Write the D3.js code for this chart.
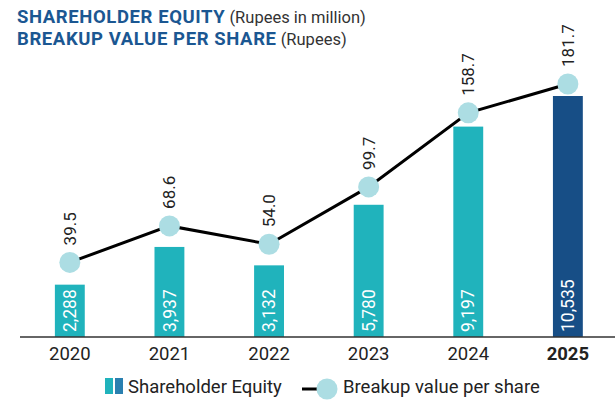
<!DOCTYPE html>
<html>
<head>
<meta charset="utf-8">
<script src="https://cdn.jsdelivr.net/npm/d3@7"></script>
<style>
  body { margin: 0; background: #fff; }
  text { font-family: Roboto, "Noto Sans", sans-serif; }
</style>
</head>
<body>
<div id="chart"></div>
<script>
// chart data
var years = ["2020", "2021", "2022", "2023", "2024", "2025"];
var equity = [2288, 3937, 3132, 5780, 9197, 10535];
var breakup = [39.5, 68.6, 54.0, 99.7, 158.7, 181.7];
var equityLabels = ["2,288", "3,937", "3,132", "5,780", "9,197", "10,535"];
var breakupLabels = ["39.5", "68.6", "54.0", "99.7", "158.7", "181.7"];

var svgWidth = 615;
var svgHeight = 402;
var baseY = 337;

var svg = d3.select("#chart")
  .append("svg")
  .attr("width", svgWidth)
  .attr("height", svgHeight);

var teal = "#20b3bc";
var navy = "#174e86";
var titleBlue = "#1b5792";

// titles
var t1 = svg.append("text").attr("x", 17).attr("y", 22.5);
t1.append("tspan").attr("font-weight", "bold").attr("font-size", "18.5px").attr("letter-spacing", "0.6px").attr("fill", titleBlue).text("SHAREHOLDER EQUITY");
t1.append("tspan").attr("font-size", "16.5px").attr("fill", "#333").text(" (Rupees in million)");
var t2 = svg.append("text").attr("x", 17).attr("y", 44.5);
t2.append("tspan").attr("font-weight", "bold").attr("font-size", "18.5px").attr("letter-spacing", "0.6px").attr("fill", titleBlue).text("BREAKUP VALUE PER SHARE");
t2.append("tspan").attr("font-size", "16.5px").attr("fill", "#333").text(" (Rupees)");

// scales
var xScale = d3.scaleBand()
  .domain(years)
  .range([25, 612.7])
  .paddingInner(0.7)
  .paddingOuter(0.3);

var yBar = d3.scaleLinear()
  .domain([0, 10535])
  .range([baseY, 96]);

var yLine = d3.scaleLinear()
  .domain([0, 200])
  .range([312, 61]);

var cx = function(i) { return xScale(years[i]) + xScale.bandwidth() / 2; };

// bars
svg.selectAll("rect.bar")
  .data(equity)
  .enter()
  .append("rect")
  .attr("class", "bar")
  .attr("x", (d, i) => xScale(years[i]))
  .attr("y", d => yBar(d))
  .attr("width", xScale.bandwidth())
  .attr("height", d => baseY - yBar(d))
  .attr("fill", (d, i) => i == 5 ? navy : teal);

// bar value labels
svg.selectAll("text.barLabel")
  .data(equityLabels)
  .enter()
  .append("text")
  .attr("class", "barLabel")
  .attr("transform", (d, i) => `translate(${cx(i)}, ${baseY - 5}) rotate(-90)`)
  .attr("dy", "0.35em")
  .attr("font-size", "17.5px")
  .attr("fill", "#fff")
  .text(d => d);

// axis line
svg.append("line")
  .attr("x1", 20).attr("x2", 615)
  .attr("y1", baseY).attr("y2", baseY)
  .attr("stroke", "#333")
  .attr("stroke-width", 1.5);

// year labels
svg.selectAll("text.year")
  .data(years)
  .enter()
  .append("text")
  .attr("class", "year")
  .attr("x", (d, i) => cx(i))
  .attr("y", 360)
  .attr("text-anchor", "middle")
  .attr("font-size", "18.5px")
  .attr("font-weight", (d, i) => i == 5 ? "bold" : "normal")
  .attr("fill", "#222")
  .text(d => d);

// breakup line
var line = d3.line()
  .x((d, i) => cx(i))
  .y(d => yLine(d));

svg.append("path")
  .datum(breakup)
  .attr("d", line)
  .attr("fill", "none")
  .attr("stroke", "#000")
  .attr("stroke-width", 3);

svg.selectAll("circle.pt")
  .data(breakup)
  .enter()
  .append("circle")
  .attr("class", "pt")
  .attr("cx", (d, i) => cx(i))
  .attr("cy", d => yLine(d))
  .attr("r", 10.5)
  .attr("fill", "#acdde3");

svg.selectAll("text.ptLabel")
  .data(breakup)
  .enter()
  .append("text")
  .attr("class", "ptLabel")
  .attr("transform", (d, i) => `translate(${cx(i)}, ${yLine(d) - 17}) rotate(-90)`)
  .attr("dy", "0.35em")
  .attr("font-size", "17px")
  .attr("fill", "#222")
  .text((d, i) => breakupLabels[i]);

// legend
var legend = svg.append("g");
legend.append("rect").attr("x", 105).attr("y", 378).attr("width", 8).attr("height", 16).attr("fill", teal);
legend.append("rect").attr("x", 115).attr("y", 378).attr("width", 8).attr("height", 16).attr("fill", "#2a80b0");
legend.append("text").attr("x", 128).attr("y", 393).attr("font-size", "18.5px").attr("fill", "#222").text("Shareholder Equity");
legend.append("line").attr("x1", 302).attr("x2", 322).attr("y1", 389).attr("y2", 389).attr("stroke", "#000").attr("stroke-width", 3);
legend.append("circle").attr("cx", 327).attr("cy", 389).attr("r", 10.5).attr("fill", "#acdde3");
legend.append("text").attr("x", 343).attr("y", 393).attr("font-size", "18.5px").attr("fill", "#222").text("Breakup value per share");
</script>
</body>
</html>
